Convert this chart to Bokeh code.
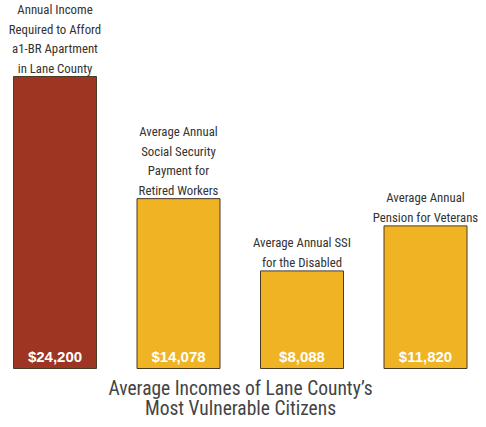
from bokeh.plotting import figure
from bokeh.models import ColumnDataSource, Range1d, Label
from bokeh.core.properties import value
from bokeh.embed import file_html
from bokeh.resources import INLINE

categories = [
    "Annual Income\nRequired to Afford\na1-BR Apartment\nin Lane County",
    "Average Annual\nSocial Security\nPayment for\nRetired Workers",
    "Average Annual SSI\nfor the Disabled",
    "Average Annual\nPension for Veterans",
]
values = [24200, 14078, 8088, 11820]
value_labels = ["$24,200", "$14,078", "$8,088", "$11,820"]
colors = ["#9E3522", "#F0B323", "#F0B323", "#F0B323"]

W, H = 478, 419
px_x = 123.5
px_y = 24200 / 292.0
x0 = -54.5 / px_x
y0 = -(H - 368) * px_y

src = ColumnDataSource(dict(
    x=list(range(len(values))),
    top=values,
    cat=categories,
    lab=value_labels,
    color=colors,
))

p = figure(width=W, height=H, output_backend="svg", toolbar_location=None,
           x_range=Range1d(x0, x0 + W / px_x), y_range=Range1d(y0, y0 + H * px_y),
           min_border=0, outline_line_color=None)
p.axis.visible = False
p.grid.visible = False
p.background_fill_color = "white"
p.border_fill_color = "white"

p.vbar(x="x", top="top", bottom=0, width=83 / px_x, fill_color="color",
       line_color="#4a3a28", line_width=1, source=src)

font = value("Roboto Condensed")
p.text(x="x", y="top", text="cat", source=src, text_align="center",
       text_baseline="bottom", y_offset=-1, text_font=font,
       text_font_size="12.8px", text_color="#333333", text_line_height=1.3)

p.text(x="x", y=0, text="lab", source=src, text_align="center",
       text_baseline="middle", y_offset=-12, text_font=value("Liberation Sans"),
       text_font_style="bold", text_font_size="15px", text_color="white")

p.add_layout(Label(x=240, y=H - 398, x_units="screen", y_units="screen",
                   text="Average Incomes of Lane County\u2019s\nMost Vulnerable Citizens",
                   text_align="center", text_baseline="middle",
                   text_font="Roboto Condensed", text_font_size="19.5px",
                   text_color="#444444", text_line_height=0.9))

open("out.html", "w").write(file_html(p, INLINE))
